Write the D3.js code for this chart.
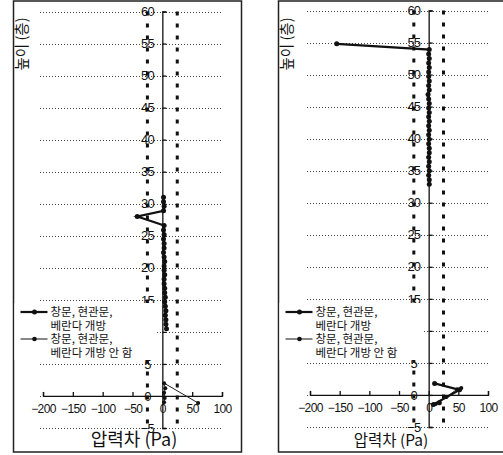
<!DOCTYPE html>
<meta charset="utf-8">
<style>
body { margin: 0; background: #fff; }
svg { display: block; }
.grid line { stroke: #444; stroke-width: 1; stroke-dasharray: 1,2; }
.ref line { stroke: #111; stroke-width: 3; stroke-dasharray: 4,8; }
.axis path, .axis line { stroke: #111; stroke-width: 1.3; fill: none; }
.axis text { font-family: "Liberation Sans", Arial, sans-serif; fill: #111; }
.kr { font-family: "Noto Sans CJK KR", sans-serif; fill: #111; }
</style>
<body>
<svg width="503" height="455"></svg>
<script src="https://d3js.org/d3.v7.min.js"></script>
<script>

// axis ticks and reference lines (Pa)
var xTicks = [-200, -150, -100, -50, 0, 50, 100];
var yTicks = [-5, 0, 5, 10, 15, 20, 25, 30, 35, 40, 45, 50, 55, 60];
var refLines = [-25, 25];

var seriesNames = [["창문, 현관문,", "베란다 개방"], ["창문, 현관문,", "베란다 개방 안 함"]];
var xTitle = "압력차 (Pa)";
var yTitle = "높이 (층)";

// left building: open / closed
var leftOpenDp = [2, 2, 3, 2, -42, 3, 2, 3, 2, 3, 3, 2, 3, 4, 3, 3, 4, 3, 3, 4, 4, 5, 4, 5, 6, 5, 6, 6, 7];
var leftOpenH  = [31.0, 30.3, 29.6, 28.9, 28.0, 26.6, 25.9, 25.2, 24.5, 23.8, 23.1, 22.4, 21.7, 21.0, 20.3, 19.6, 18.9, 18.2, 17.5, 16.8, 16.1, 15.4, 14.7, 14.0, 13.3, 12.6, 11.9, 11.2, 10.5];
var leftClosedDp = [3, 4, 3, 5, 3, 60];
var leftClosedH  = [-1.0, -0.3, 0.5, 1.2, 2.0, -1.1];

// right building: open / closed
var rightOpenDp = [-155, 1, 0, 1, 0, 1, 0, 0, 1, 0, 1, -1, 0, 1, 0, 1, 0, 1, 0, 1, 0, 1, 0, 1, 1, 0, 1, 0, 1, 0, 1, 1, null, 10, 52, 8, 18];
var rightOpenH  = [54.8, 53.9, 53.2, 52.5, 51.8, 51.1, 50.4, 49.7, 49.0, 48.3, 47.6, 46.9, 46.2, 45.5, 44.8, 44.1, 43.4, 42.7, 42.0, 41.3, 40.6, 39.9, 39.2, 38.5, 37.8, 37.1, 36.4, 35.7, 35.0, 34.3, 33.6, 32.9, null, 1.8, 0.8, -1.5, -1.2];
var rightClosedDp = [12, 30, 48, 55];
var rightClosedH  = [-1.4, -0.3, 0.9, 1.1];

var svg = d3.select("svg");

function pts(dp, h) {
  return dp.map(function(v, i) { return {dp: v, h: h[i]}; });
}

var panels = [
  {x0: 43, x1: 222, y0: 428, y1: 11.5, box: 13.5, titleX: 134, titleSize: 18,
   open: pts(leftOpenDp, leftOpenH), closed: pts(leftClosedDp, leftClosedH)},
  {x0: 310, x1: 488, y0: 427, y1: 10.5, box: 278.5, titleX: 391, titleSize: 15.5,
   open: pts(rightOpenDp, rightOpenH), closed: pts(rightClosedDp, rightClosedH)}
];

panels.forEach(function(p) {
  var g = svg.append("g");
  var x = d3.scaleLinear().domain([-200, 100]).range([p.x0, p.x1]);
  var y = d3.scaleLinear().domain([-5, 60]).range([p.y0, p.y1]);

  g.append("rect")
      .attr("x", p.box).attr("y", 1)
      .attr("width", 228).attr("height", 451)
      .attr("fill", "#fff").attr("stroke", "#222").attr("stroke-width", 1.5);

  g.append("g").attr("class", "grid")
    .selectAll("line").data(yTicks).enter().append("line")
      .attr("x1", x(-200) - 3).attr("x2", x(100))
      .attr("y1", function(d) { return Math.round(y(d)) + 0.5; })
      .attr("y2", function(d) { return Math.round(y(d)) + 0.5; });

  g.append("g").attr("class", "ref")
    .selectAll("line").data(refLines).enter().append("line")
      .attr("x1", function(d) { return x(d); })
      .attr("x2", function(d) { return x(d); })
      .attr("y1", y(60)).attr("y2", y(-5));

  // x axis sits on height 0, ticks point up
  var xa = g.append("g").attr("class", "axis")
      .attr("transform", "translate(0," + y(0) + ")")
      .call(d3.axisBottom(x).tickValues(xTicks).tickSizeInner(-4).tickSizeOuter(-4).tickPadding(9)
        .tickFormat(function(d) { return d < 0 ? "\u2212" + (-d) : d; }));
  xa.selectAll("text").attr("font-size", 12).attr("letter-spacing", -0.6);

  // y axis on 0 Pa, labels centred on the -25 line
  var ya = g.append("g").attr("class", "axis")
      .attr("transform", "translate(" + x(0) + ",0)")
      .call(d3.axisLeft(y).tickValues(yTicks).tickSizeInner(-4).tickSizeOuter(-4)
        .tickFormat(function(d) { return d < 0 ? "\u2212" + (-d) : d; }));
  ya.selectAll("text")
      .attr("x", x(-25) - x(0))
      .attr("text-anchor", "middle")
      .attr("font-size", 13)
      .attr("letter-spacing", -0.8);

  var line = d3.line()
      .defined(function(d) { return d.dp != null; })
      .x(function(d) { return x(d.dp); })
      .y(function(d) { return y(d.h); });

  g.append("path").datum(p.closed)
      .attr("d", line).attr("fill", "none").attr("stroke", "#222").attr("stroke-width", 1);
  g.append("g").selectAll("circle")
      .data(p.closed.filter(function(d) { return d.dp != null; }))
      .enter().append("circle")
      .attr("cx", function(d) { return x(d.dp); })
      .attr("cy", function(d) { return y(d.h); })
      .attr("r", 2).attr("fill", "#111");

  g.append("path").datum(p.open)
      .attr("d", line).attr("fill", "none").attr("stroke", "#111").attr("stroke-width", 2.2);
  g.append("g").selectAll("circle")
      .data(p.open.filter(function(d) { return d.dp != null; }))
      .enter().append("circle")
      .attr("cx", function(d) { return x(d.dp); })
      .attr("cy", function(d) { return y(d.h); })
      .attr("r", 2.5).attr("fill", "#111");

  // legend
  var lg = g.append("g").attr("transform", "translate(" + p.box + ",0)");
  lg.append("rect")
      .attr("x", 1).attr("y", 303)
      .attr("width", x(-25) + 8 - p.box).attr("height", 57)
      .attr("fill", "#fff");
  seriesNames.forEach(function(name, i) {
    var ly = 312 + i * 27;
    lg.append("line")
        .attr("x1", 7).attr("x2", 34).attr("y1", ly).attr("y2", ly)
        .attr("stroke", "#111").attr("stroke-width", i == 0 ? 2.2 : 1);
    lg.append("circle").attr("cx", 21).attr("cy", ly).attr("r", i == 0 ? 2.5 : 2.3).attr("fill", "#111");
    name.forEach(function(t, j) {
      lg.append("text").attr("class", "kr")
          .attr("x", 37).attr("y", ly + 4 + j * 14)
          .attr("font-size", 11.5)
          .text(t);
    });
  });

  g.append("text").attr("class", "kr")
      .attr("x", p.titleX).attr("y", 446)
      .attr("text-anchor", "middle")
      .attr("font-size", p.titleSize)
      .text(xTitle);

  g.append("text").attr("class", "kr")
      .attr("transform", "translate(" + (p.box + 13) + ",44) rotate(-90)")
      .attr("text-anchor", "middle")
      .attr("font-size", 14.5)
      .text(yTitle);
});

</script>
</body>
